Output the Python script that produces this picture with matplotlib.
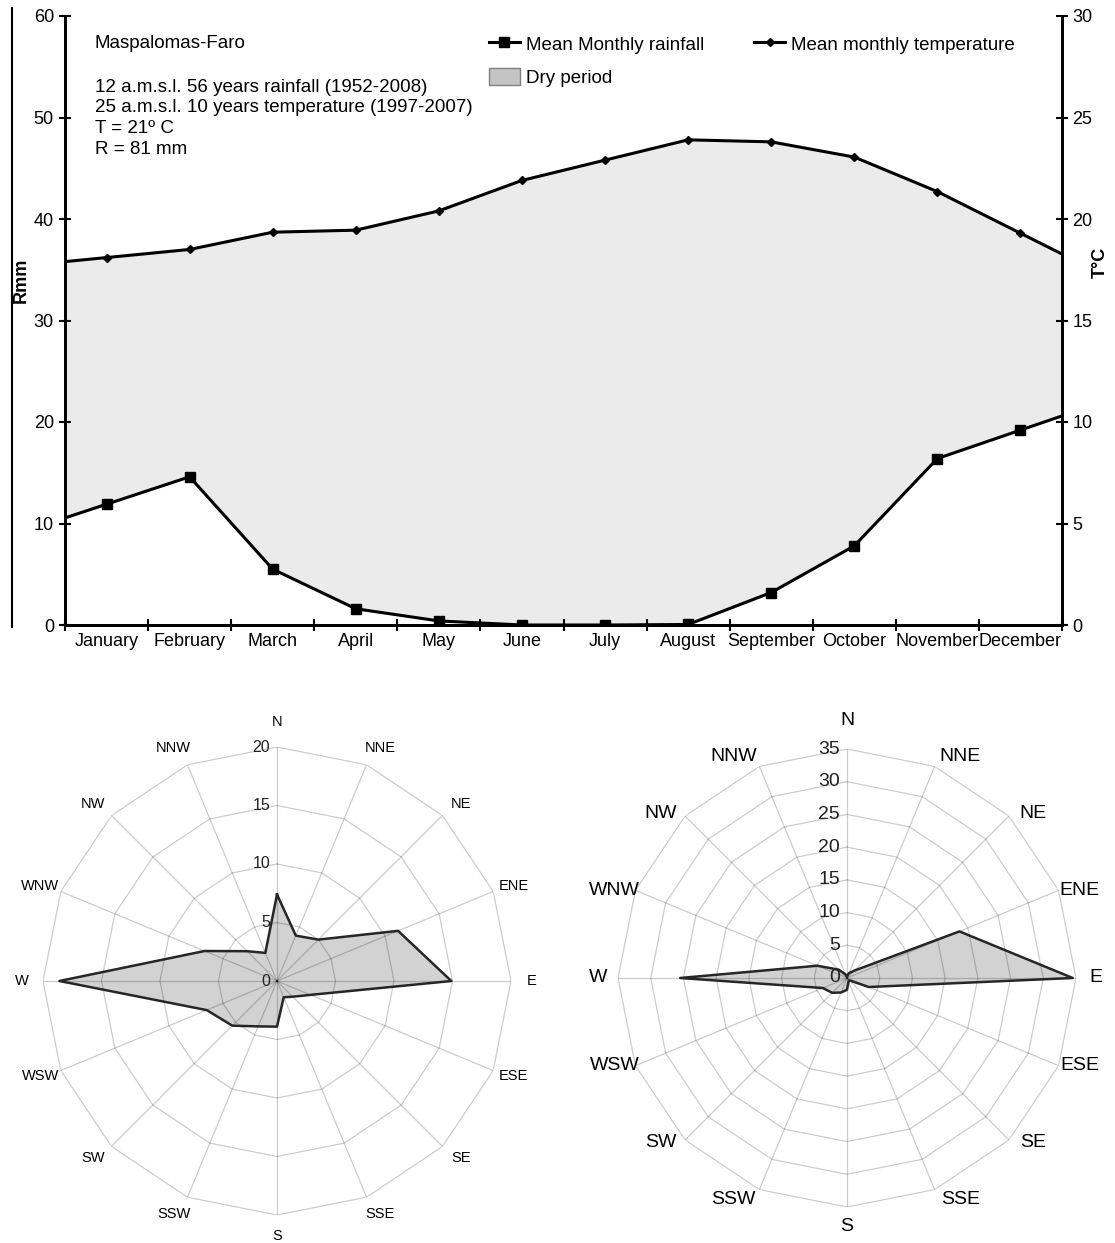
import numpy as np
import matplotlib
matplotlib.use('Agg')
import matplotlib.pyplot as plt
import matplotlib.transforms as mtransforms
from matplotlib.patches import Patch
from matplotlib.lines import Line2D

plt.rcParams['font.family'] = ['Liberation Sans', 'DejaVu Sans']

# climate data (Maspalomas-Faro)
months = ['January', 'February', 'March', 'April', 'May', 'June', 'July',
          'August', 'September', 'October', 'November', 'December']
rainfall = [11.9, 14.6, 5.5, 1.6, 0.4, 0.0, 0.0, 0.05, 3.2, 7.8, 16.4, 19.2]
temperature = [18.1, 18.5, 19.35, 19.45, 20.4, 21.9, 22.9, 23.9, 23.8, 23.05, 21.35, 19.3]

# wind roses
directions = ['N', 'NNE', 'NE', 'ENE', 'E', 'ESE', 'SE', 'SSE',
              'S', 'SSW', 'SW', 'WSW', 'W', 'WNW', 'NW', 'NNW']
wind_left = [7.4, 4.2, 5.0, 11.2, 14.9, 3.1, 1.9, 1.5,
             3.9, 4.2, 5.4, 6.5, 18.6, 6.7, 3.6, 2.6]
wind_right = [0.3, 0.8, 1.6, 18.6, 34.5, 3.6, 0.5, 0.6,
              1.8, 2.4, 3.2, 4.0, 25.5, 4.9, 1.8, 0.6]

W, H = 1115, 1243
fig = plt.figure(figsize=(W / 100, H / 100), dpi=100)


def fx(px):
    return px / W


def fy(py):
    return 1 - py / H


# ---- climate diagram ----
ax = fig.add_axes([fx(65), fy(625), fx(1062 - 65), (625 - 16) / H])
ax2 = ax.twinx()

x = np.arange(12) + 0.5


def extend(v):
    # carry the line on to the edges of the plot
    v = np.asarray(v, float)
    return np.r_[v[0] - (v[1] - v[0]) / 2, v, v[-1] + (v[-1] - v[-2]) / 2]


xe = np.r_[0, x, 12]
rain_e = extend(rainfall)
temp_e = extend(temperature)

ax.fill_between(xe, rain_e, temp_e * 2, color='#ebebeb', lw=0, zorder=1)
ax.plot(xe, rain_e, color='black', lw=2.2, zorder=3)
ax.plot(x, rainfall, 's', color='black', ms=6.5, zorder=4)
ax2.plot(xe, temp_e, color='black', lw=2.2, zorder=3)
ax2.plot(x, temperature, 'D', color='black', ms=4, zorder=4)

ax.set_xlim(0, 12)
ax.set_ylim(0, 60)
ax2.set_ylim(0, 30)
ax.set_yticks(range(0, 61, 10))
ax2.set_yticks(range(0, 31, 5))
ax.set_xticks(range(13))
ax.set_xticklabels([])
ax.set_xticks(x, minor=True)
ax.set_xticklabels(months, minor=True, fontsize=13)
ax.tick_params(axis='x', which='minor', length=0, pad=6)
for a in (ax, ax2):
    a.tick_params(which='major', direction='inout', length=8, width=1.5, labelsize=13)
    a.spines['top'].set_visible(False)
    for s in ('left', 'right', 'bottom'):
        a.spines[s].set_linewidth(2)
ax.tick_params(axis='y', pad=4)

fig.text(fx(21), fy(280), 'Rmm', rotation=90, fontsize=13, fontweight='bold',
         ha='center', va='center')
fig.text(fx(1100), fy(262), 'T°C', rotation=90, fontsize=13, fontweight='bold',
         ha='center', va='center')
fig.add_artist(Line2D([fx(12), fx(12)], [fy(8), fy(627)], color='black', lw=1.5))

fig.text(fx(95), fy(44), 'Maspalomas-Faro', fontsize=13.5, va='center')
info = ['12 a.m.s.l. 56 years rainfall (1952-2008)',
        '25 a.m.s.l. 10 years temperature (1997-2007)',
        'T = 21º C',
        'R = 81 mm']
for i, line in enumerate(info):
    fig.text(fx(95), fy(87 + i * 20.7), line, fontsize=13.5, va='center')

handles = [Line2D([], [], color='black', lw=2.2, marker='s', ms=6.5),
           Patch(facecolor='#c4c4c4', edgecolor='#808080'),
           Line2D([], [], color='black', lw=2.2, marker='D', ms=4)]
labels = ['Mean Monthly rainfall', 'Dry period', 'Mean monthly temperature']
fig.legend(handles, labels, loc='upper left', bbox_to_anchor=(fx(489), fy(35)),
           ncol=2, frameon=False, fontsize=13.5, handlelength=1.65,
           handleheight=1.0, handletextpad=0.3, columnspacing=2.7,
           labelspacing=0.75, borderaxespad=0, borderpad=0)


# ---- wind roses ----
def radar(rect, values, rmax, step, dir_fs, tick_fs, push, r_lab, r_north):
    axr = fig.add_axes(rect, projection='polar')
    axr.set_theta_zero_location('N')
    axr.set_theta_direction(-1)
    axr.set_ylim(0, rmax)
    axr.grid(False)
    axr.set_xticks([])
    axr.set_yticks([])
    axr.spines['polar'].set_visible(False)
    axr.set_facecolor('none')

    theta = np.deg2rad(np.arange(len(directions)) * 22.5)
    tc = np.r_[theta, theta[0]]
    for r in np.arange(step, rmax + step / 2, step):
        axr.plot(tc, np.full(len(tc), r), color='black', alpha=0.2, lw=0.9, zorder=2)
    for t in theta:
        axr.plot([t, t], [0, rmax], color='black', alpha=0.2, lw=0.9, zorder=2)

    vc = np.r_[values, values[0]]
    axr.fill(tc, vc, color='#d2d2d2', lw=0, zorder=1)
    axr.plot(tc, vc, color='#262626', lw=1.8, zorder=3)

    for t, d in zip(theta, directions):
        # nudge the labels sideways, away from the N-S axis
        s = np.sign(np.round(np.sin(t), 6))
        t_lab = t + np.deg2rad(push) * np.cos(t) * s
        rl = r_north if d == 'N' else r_lab
        axr.text(t_lab, rmax * rl, d, ha='center', va='center', fontsize=dir_fs)
    off = mtransforms.offset_copy(axr.transData, fig=fig, x=-5, y=0, units='points')
    for r in np.arange(0, rmax + step / 2, step):
        axr.text(0, r, f'{r:g}', transform=off, ha='right', va='center',
                 fontsize=tick_fs, color='#222222')
    return axr


radar([fx(277 - 234), fy(981 + 234), 468 / W, 468 / H], wind_left, 20, 5,
      10.5, 11.5, push=1.5, r_lab=1.09, r_north=1.105)
radar([fx(847 - 229), fy(978 + 229), 458 / W, 458 / H], wind_right, 35, 5,
      14, 14, push=5, r_lab=1.085, r_north=1.125)

fig.savefig('out.png', dpi=100)
